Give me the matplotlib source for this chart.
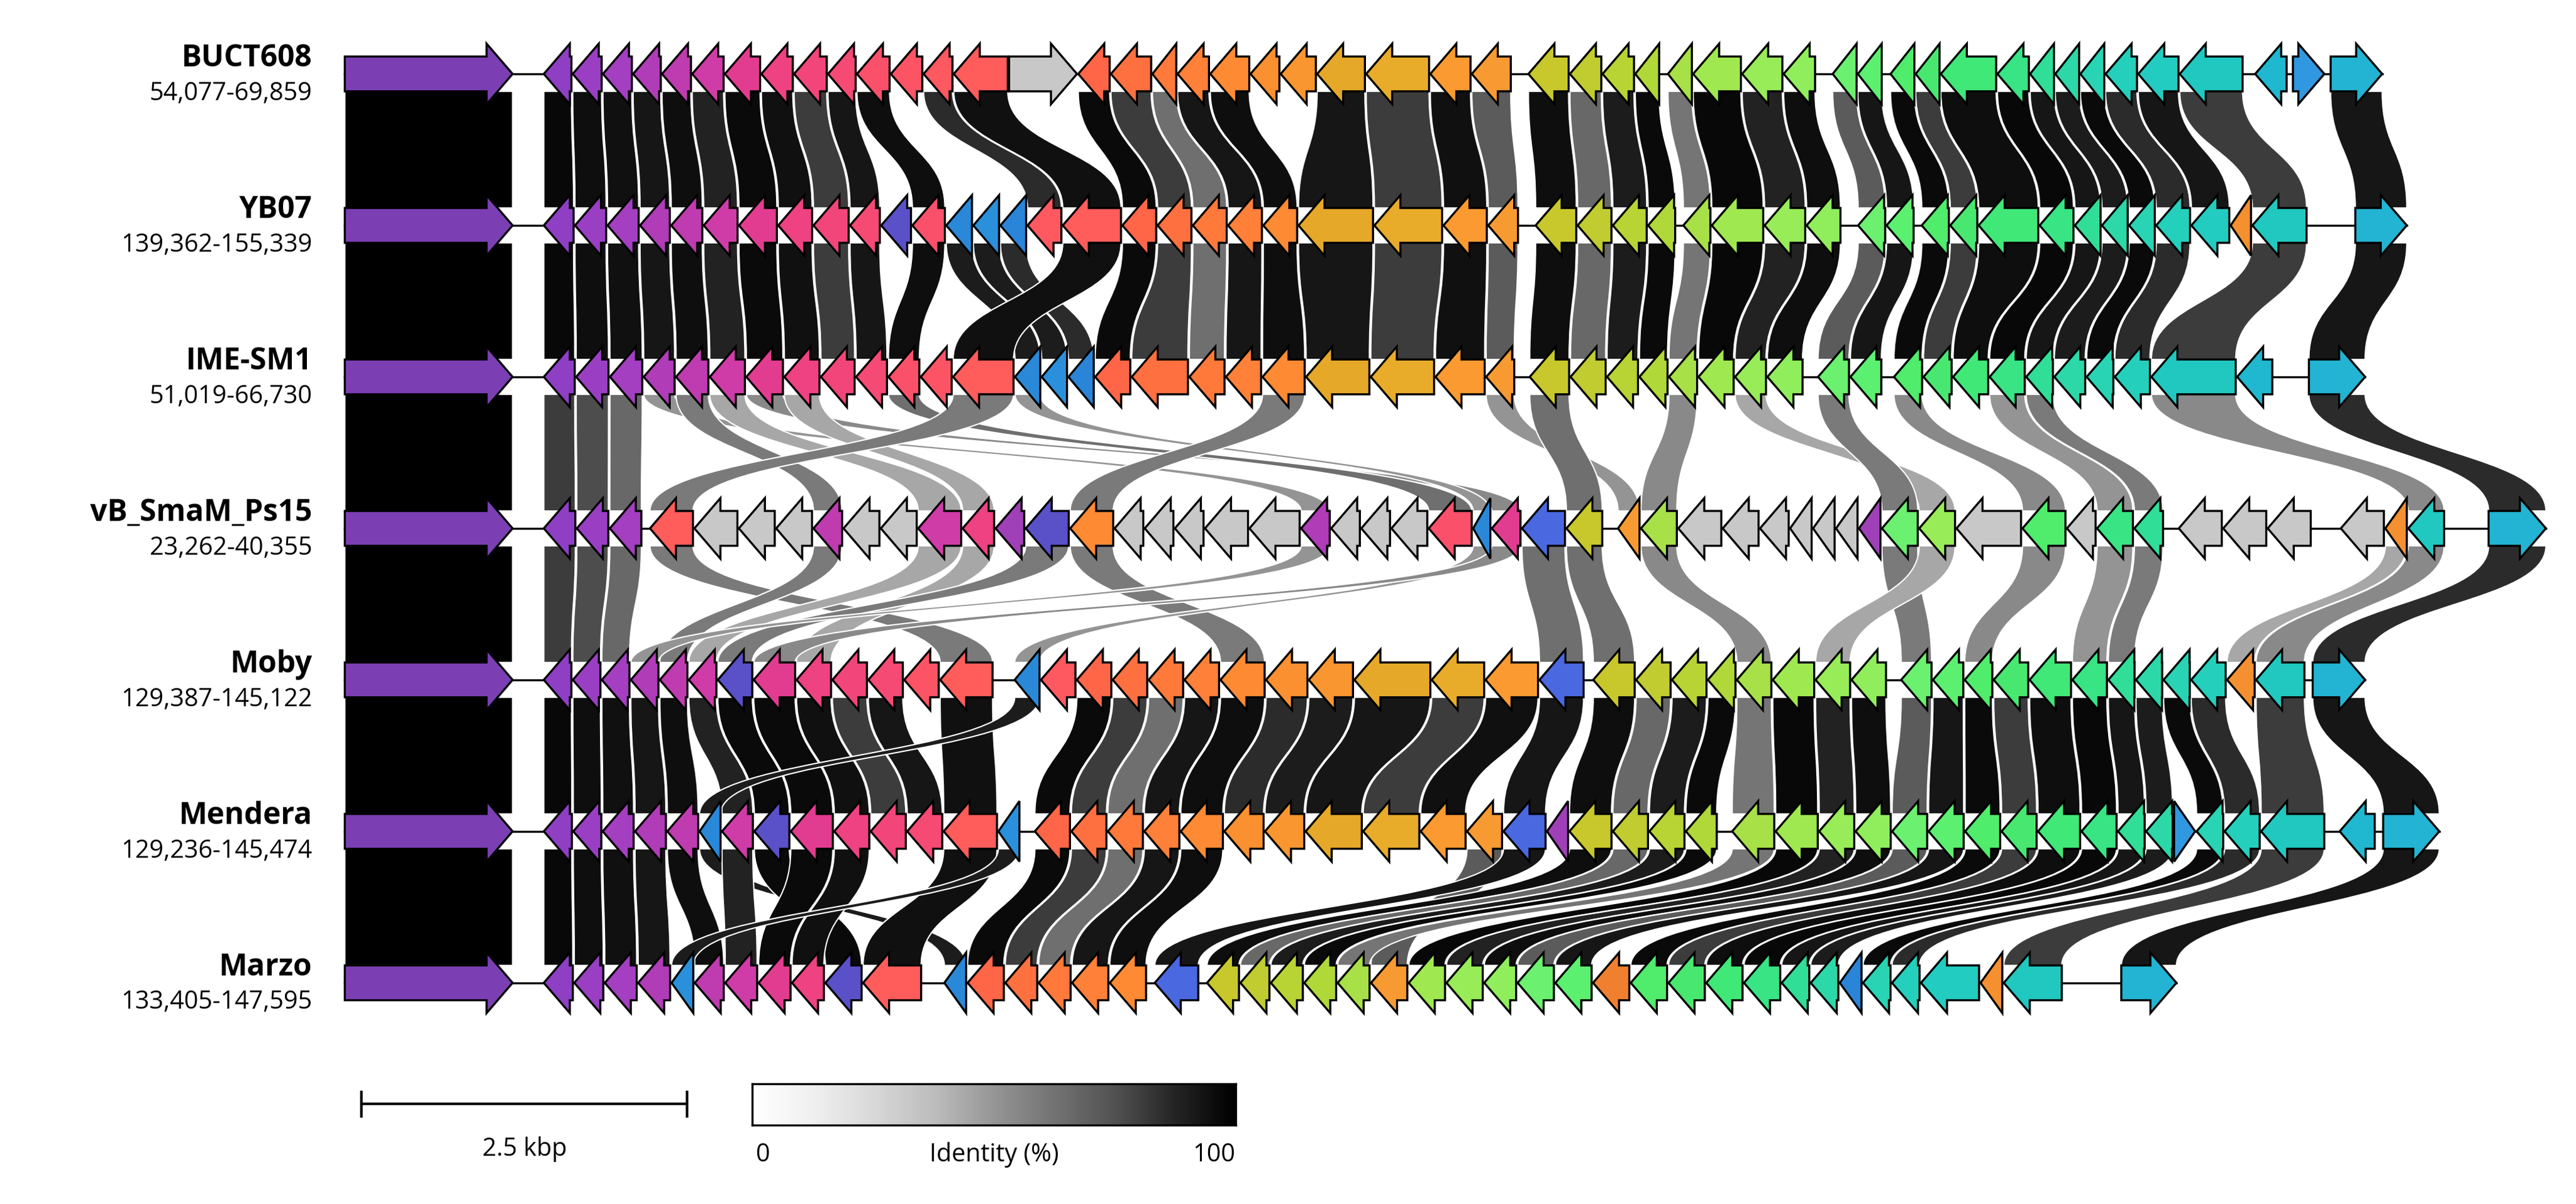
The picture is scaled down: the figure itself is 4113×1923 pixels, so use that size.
import matplotlib
matplotlib.use("Agg")
import matplotlib.pyplot as plt
from matplotlib.path import Path
from matplotlib.patches import PathPatch, Polygon
import numpy as np

plt.rcParams['font.family'] = ['Open Sans', 'DejaVu Sans']

# ---- data -------------------------------------------------------------
names = ['BUCT608', 'YB07', 'IME-SM1', 'vB_SmaM_Ps15', 'Moby', 'Mendera', 'Marzo']
ranges = ['54,077-69,859', '139,362-155,339', '51,019-66,730', '23,262-40,355',
          '129,387-145,122', '129,236-145,474', '133,405-147,595']
# plotted end of each locus (kbp from the left edge)
track_end = [15.66, 15.85, 15.53, 16.92, 15.53, 16.10, 14.08]

# cluster colours (index = cluster id), -1 = unique grey gene
cluster_colors = [
    '#7b3fb3', '#8e3fc4', '#9a3fc4', '#a33fc0', '#b03cb8', '#bf3cb0', '#cf3ca8', '#e23c90',
    '#ee4282', '#f2467a', '#f54a74', '#fa506a', '#fc5464', '#fe5860', '#ff5c5c', '#c8c8c8',
    '#ff6648', '#ff7040', '#ff7a3a', '#ff8038', '#ff8a34', '#fb9030', '#f99630', '#e6a828',
    '#e8ac2a', '#fb9a30', '#f89a32', '#c8c82c', '#c0cc30', '#b8d434', '#b0d838', '#a8e048',
    '#a0e850', '#98ec58', '#90ee5c', '#6cf070', '#5cf070', '#50ec6c', '#48e870', '#40e878',
    '#38e484', '#30de98', '#2cd8a8', '#28d4b4', '#24d0bc', '#22ccc0', '#20c8c0', '#20b8d0',
    '#3098e0', '#22b4d2', '#2a88d8', '#5a50c8', '#4a68e0', '#2a90dc', '#2a84d8', '#a040b8',
    '#f08030', '#f49030']
forward_clusters = {0, 15, 48, 49}

# identity (%) per cluster for links among close relatives, and links touching Ps15
ident_main = [100, 97, 95, 94, 92, 95, 88, 96, 94, 80, 92, 95, 88, 85, 94, 70, 96, 80, 62, 92,
              95, 85, 90, 92, 80, 94, 70, 95, 65, 90, 96, 60, 97, 88, 95, 70, 92, 96, 80, 95,
              97, 92, 90, 96, 85, 92, 80, 97, 95, 92, 90, 96, 92, 90, 85, 80, 90, 92]
ident_ps15 = [100, 80, 75, 65, 48, 58, 42, 52, 42, 48, 42, 62, 48, 52, 58, 42, 48, 42, 42, 48,
              58, 42, 48, 52, 48, 52, 48, 62, 42, 48, 42, 52, 48, 42, 42, 58, 48, 52, 42, 42,
              48, 58, 42, 48, 42, 48, 52, 42, 48, 85, 48, 58, 62, 42, 42, 42, 42, 42]

# genes per track: (cluster, length kbp); None = intergenic gap
buct608 = [(0, 1.29), (None, .23), (1, .22), (2, .23), (3, .23), (4, .22), (5, .23), (6, .25),
           (7, .28), (8, .25), (9, .26), (10, .22), (11, .26), (12, .25), (13, .23), (14, .43),
           (15, .54), (16, .25), (17, .32), (18, .19), (19, .25), (20, .31), (21, .23), (22, .28),
           (23, .38), (24, .50), (25, .32), (26, .31), (None, .13), (27, .32), (28, .25), (29, .25),
           (30, .19), (None, .06), (31, .19), (32, .38), (33, .32), (34, .25), (None, .13), (35, .19),
           (36, .19), (None, .06), (37, .19), (38, .19), (39, .44), (40, .25), (41, .19), (42, .19),
           (43, .19), (44, .25), (45, .32), (46, .50), (None, .09), (47, .25), (None, .04),
           (48, .25), (None, .04), (49, .41)]
yb07 = [(0, 1.29), (None, .23), (1, .22), (2, .23), (3, .23), (4, .22), (5, .23), (6, .25),
        (7, .28), (8, .25), (9, .26), (10, .22), (51, .22), (11, .24), (50, .19), (53, .19),
        (54, .19), (13, .25), (14, .43), (16, .25), (17, .25), (18, .25), (19, .25), (20, .25),
        (23, .55), (24, .50), (25, .32), (26, .22), (None, .12), (27, .30), (28, .25), (29, .25),
        (30, .20), (None, .05), (31, .20), (32, .38), (33, .30), (34, .25), (None, .12), (35, .20),
        (36, .20), (None, .05), (37, .20), (38, .20), (39, .44), (40, .25), (41, .19), (42, .19),
        (43, .19), (44, .25), (45, .28), (57, .15), (46, .40), (None, .35), (49, .38)]
imesm1 = [(0, 1.29), (None, .23), (1, .22), (2, .23), (3, .23), (4, .22), (5, .23), (6, .25),
          (7, .26), (8, .25), (9, .24), (10, .22), (11, .22), (12, .22), (14, .43), (50, .18),
          (53, .18), (54, .18), (16, .25), (17, .40), (18, .25), (19, .25), (20, .30), (23, .45),
          (24, .45), (25, .35), (26, .20), (None, .10), (27, .28), (28, .25), (29, .22), (30, .20),
          (31, .20), (32, .25), (33, .22), (34, .25), (None, .10), (35, .22), (36, .22),
          (None, .08), (37, .20), (38, .20), (39, .25), (40, .25), (41, .19), (42, .22),
          (43, .19), (44, .25), (46, .60), (47, .25), (None, .25), (49, .40)]
ps15 = [(0, 1.29), (None, .23), (1, .22), (2, .22), (3, .22), (None, .05), (14, .30), (-1, .30),
        (-1, .25), (-1, .25), (5, .20), (-1, .25), (-1, .25), (6, .30), (8, .22), (55, .20),
        (51, .30), (20, .30), (-1, .20), (-1, .20), (-1, .20), (-1, .30), (-1, .35), (4, .20),
        (-1, .20), (-1, .20), (-1, .25), (11, .30), (50, .12), (7, .20), (52, .30), (27, .25),
        (None, .10), (26, .15), (31, .25), (-1, .30), (-1, .25), (-1, .20), (-1, .15), (-1, .15),
        (-1, .15), (55, .15), (35, .25), (33, .25), (-1, .45), (37, .30), (-1, .20), (40, .25),
        (41, .20), (None, .10), (-1, .30), (-1, .30), (-1, .30), (None, .20), (-1, .30),
        (57, .15), (46, .25), (None, .30), (49, .40)]
moby = [(0, 1.29), (None, .23), (1, .20), (2, .20), (3, .20), (4, .20), (5, .20), (6, .20),
        (51, .25), (7, .30), (8, .25), (9, .25), (10, .25), (12, .25), (14, .38), (None, .15),
        (50, .18), (13, .25), (16, .25), (17, .25), (18, .25), (19, .25), (20, .32), (21, .30),
        (22, .32), (23, .55), (24, .38), (25, .38), (52, .32), (None, .06), (27, .30), (28, .25),
        (29, .25), (30, .20), (31, .25), (32, .30), (33, .25), (34, .25), (None, .10), (35, .22),
        (36, .22), (37, .20), (38, .25), (39, .30), (40, .25), (41, .19), (42, .19), (43, .19),
        (44, .25), (57, .20), (46, .35), (None, .05), (49, .38)]
mendera = [(0, 1.29), (None, .23), (1, .20), (2, .20), (3, .22), (4, .22), (5, .22), (50, .15),
           (6, .22), (51, .25), (7, .30), (8, .25), (9, .25), (10, .25), (14, .38), (53, .15),
           (None, .10), (16, .25), (17, .25), (18, .25), (19, .25), (20, .30), (21, .28),
           (22, .28), (23, .40), (24, .40), (25, .32), (26, .25), (52, .30), (55, .15), (27, .30),
           (28, .25), (29, .25), (30, .22), (None, .10), (31, .30), (32, .30), (33, .25),
           (34, .25), (35, .25), (36, .25), (37, .25), (38, .25), (39, .30), (40, .25), (41, .19),
           (42, .19), (48, .15), (43, .19), (44, .25), (46, .45), (None, .10), (47, .25),
           (None, .05), (49, .40)]
marzo = [(0, 1.29), (None, .23), (1, .20), (2, .20), (3, .22), (4, .22), (53, .15), (5, .20),
         (6, .22), (7, .22), (8, .22), (51, .25), (14, .40), (None, .15), (50, .15), (16, .25),
         (17, .22), (18, .22), (19, .25), (20, .25), (None, .05), (52, .30), (None, .05),
         (27, .22), (28, .20), (29, .22), (30, .22), (31, .22), (26, .25), (32, .25), (33, .25),
         (34, .22), (35, .25), (36, .25), (56, .25), (37, .25), (38, .25), (39, .25), (40, .25),
         (41, .19), (42, .19), (54, .15), (43, .19), (44, .19), (45, .40), (57, .15), (46, .40),
         (None, .40), (49, .38)]
tracks = [buct608, yb07, imesm1, ps15, moby, mendera, marzo]

# ---- geometry -----------------------------------------------------------
HEAD_H, BODY_H, HEAD_L, GAP = 0.2, 0.115, 0.2, 0.01


def layout(track, end):
    # first gene and first gap keep their size; the rest is stretched to the locus end
    fixed = track[0][1] + track[1][1]
    natural = sum(length for _, length in track[2:]) + GAP * sum(1 for c, _ in track[2:] if c is not None)
    k = (end - fixed) / natural
    genes, x = [], 0.0
    for j, (cl, length) in enumerate(track):
        length = length if j < 2 else length * k
        if cl is None:
            x += length
            continue
        genes.append((cl, x, x + length))
        x += length + (GAP if j < 2 else GAP * k)
    return genes


def arrow(ax, y, s, e, forward, color):
    L = e - s
    hl = min(L, HEAD_L)
    if forward:
        tip, base, back = e, e - hl, s
    else:
        tip, base, back = s, s + hl, e
    if hl >= L:
        pts = [(back, y - HEAD_H), (tip, y), (back, y + HEAD_H)]
    else:
        pts = [(back, y - BODY_H), (base, y - BODY_H), (base, y - HEAD_H), (tip, y),
               (base, y + HEAD_H), (base, y + BODY_H), (back, y + BODY_H)]
    ax.add_patch(Polygon(pts, closed=True, facecolor=color, edgecolor='black', lw=0.8, zorder=3))


def ribbon(ax, a1, a2, yt, b1, b2, yb, color):
    ym = (yt + yb) / 2
    verts = [(a1, yt), (a2, yt), (a2, ym), (b2, ym), (b2, yb), (b1, yb),
             (b1, ym), (a1, ym), (a1, yt), (a1, yt)]
    codes = [Path.MOVETO, Path.LINETO, Path.CURVE4, Path.CURVE4, Path.CURVE4, Path.LINETO,
             Path.CURVE4, Path.CURVE4, Path.CURVE4, Path.CLOSEPOLY]
    ax.add_patch(PathPatch(Path(verts, codes), facecolor=color, edgecolor='white',
                           lw=0.5, zorder=1))


fig = plt.figure(figsize=(4113 / 300, 1923 / 300), dpi=300)
ax = fig.add_axes([0, 0, 1, 1])
ax.set_xlim(-2.65, 17.15)
ax.set_ylim(7.46, -0.488)
ax.axis('off')

cmap = plt.get_cmap('Greys')
laid = [layout(t, e) for t, e in zip(tracks, track_end)]

for i, genes in enumerate(laid):
    ax.plot([genes[0][1], genes[-1][2]], [i, i], color='black', lw=0.8, zorder=2)
    for cl, s, e in genes:
        col = '#c8c8c8' if cl < 0 else cluster_colors[cl]
        arrow(ax, i, s, e, cl in forward_clusters, col)
    ax.text(-0.25, i - 0.1, names[i], ha='right', va='center', fontsize=11.5, fontweight='bold')
    ax.text(-0.25, i + 0.13, ranges[i], ha='right', va='center', fontsize=9.5)

for i in range(len(laid) - 1):
    top = {cl: (s, e) for cl, s, e in laid[i] if cl >= 0}
    bot = {cl: (s, e) for cl, s, e in laid[i + 1] if cl >= 0}
    idents = ident_ps15 if 3 in (i, i + 1) else ident_main
    for cl in top:
        if cl in bot:
            shade = cmap(0.05 + 0.95 * idents[cl] / 100)
            ribbon(ax, *top[cl], i + BODY_H, *bot[cl], i + 1 - BODY_H, shade)

# scale bar 2.5 kbp
ax.plot([0.13, 2.63], [6.8, 6.8], color='black', lw=1)
for xb in (0.13, 2.63):
    ax.plot([xb, xb], [6.72, 6.88], color='black', lw=1)
ax.text(1.38, 7.1, '2.5 kbp', ha='center', va='center', fontsize=9.5)

# identity colour bar
cax = fig.add_axes([458 / 1568, 1 - 685 / 733, 294 / 1568, 25 / 733])
cax.imshow(np.linspace(0, 1, 256)[None, :], aspect='auto', cmap='Greys', extent=[0, 100, 0, 1])
cax.set_xticks([])
cax.set_yticks([])
for sp in cax.spines.values():
    sp.set_linewidth(0.8)
fig.text(460 / 1568, 1 - 703 / 733, '0', ha='left', va='center', fontsize=9.5)
fig.text(605 / 1568, 1 - 703 / 733, 'Identity (%)', ha='center', va='center', fontsize=9.5)
fig.text(752 / 1568, 1 - 703 / 733, '100', ha='right', va='center', fontsize=9.5)

fig.savefig('out.png', dpi=300)
